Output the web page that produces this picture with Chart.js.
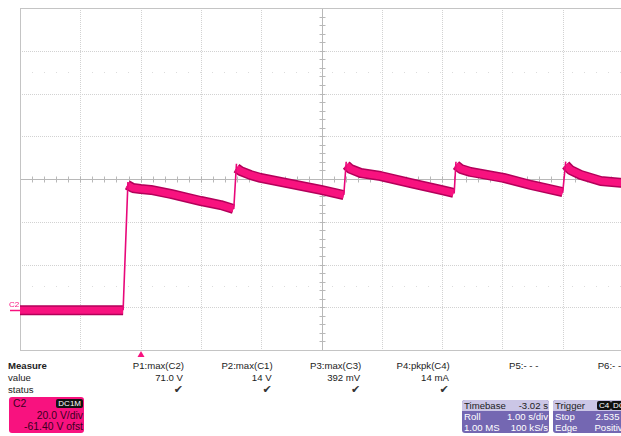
<!DOCTYPE html>
<html>
<head>
<meta charset="utf-8">
<script src="https://cdn.jsdelivr.net/npm/chart.js@4.4.1/dist/chart.umd.min.js"></script>
<style>
  html, body { margin: 0; padding: 0; background: #fff; overflow: hidden; }
  body { width: 621px; height: 436px; position: relative; font-family: "Liberation Sans", Arial, sans-serif; font-size: 9.6px; color: #222; }
  #wrap { position: absolute; left: 0; top: 0; width: 626px; height: 360px; }
  .t { position: absolute; white-space: nowrap; line-height: 11px; }
  .r { text-align: right; }
  .chk { font-family: "DejaVu Sans", sans-serif; font-size: 11px; color: #333; }
  .box { position: absolute; border-radius: 3px; overflow: hidden; }
  .c2 .t { font-size: 10.4px; }
  .badge { position: absolute; background: #111; color: #fff; font-size: 8px; line-height: 9px; padding: 0 2px; border-radius: 2px; }
</style>
</head>
<body>
<div id="wrap"><canvas id="scope" width="626" height="360"></canvas></div>
<div id="panel"></div>
<script>
// time in s relative to trigger, voltage in V; null splits the trace
const bandTimes = [-2.00, -0.29, null,
  -0.22, -0.13, 0.00, 0.17, 0.50, 1.00, 1.33, 1.54, null,
  1.59, 1.66, 1.82, 1.99, 2.49, 2.99, 3.37, null,
  3.41, 3.48, 3.65, 3.98, 4.48, 4.98, 5.19, null,
  5.23, 5.31, 5.47, 6.02, 6.47, 7.00, null,
  7.05, 7.13, 7.30, 7.63, 8.01];
const bandVolts = [0.0, 0.0, null,
  58.6, 57.2, 56.7, 56.3, 54.4, 51.1, 49.2, 47.4, null,
  66.5, 65.1, 63.3, 61.9, 59.1, 56.3, 53.9, null,
  67.9, 66.1, 64.2, 62.8, 59.5, 56.3, 54.9, null,
  67.9, 66.1, 64.7, 61.9, 58.6, 55.3, null,
  67.9, 65.6, 63.3, 60.5, 59.5];
const edgeTimes = [-0.29, -0.21, null, 1.545, 1.59, null, 3.37, 3.41, null, 5.20, 5.23, null, 7.00, 7.05];
const edgeVolts = [0.0, 60.0, null, 47.4, 68.5, null, 53.9, 69.5, null, 54.6, 69.5, null, 55.0, 69.5];

const timeDivs = [-2, -1, 0, 1, 2, 3, 4, 5, 6, 7, 8];
const voltsPerDiv = 20.0;
const offsetVolts = -61.40;
const voltDivs = [-4, -3, -2, -1, 0, 1, 2, 3, 4].map(d => d * voltsPerDiv - offsetVolts);

const measureNames = ['P1:max(C2)', 'P2:max(C1)', 'P3:max(C3)', 'P4:pkpk(C4)', 'P5:- - -', 'P6:- - -'];
const measureValues = ['71.0 V', '14 V', '392 mV', '14 mA', '', ''];
const measureStatus = ['✔', '✔', '✔', '✔', '', ''];

const PINK = '#f8127f';

const toPoints = (ts, vs) => ts.map((t, i) => t === null ? { x: null, y: null } : { x: t, y: vs[i] });

const scopeGrid = {
  id: 'scopeGrid',
  beforeDatasetsDraw(chart) {
    const { ctx, chartArea: a, scales: { x, y } } = chart;
    const cx = Math.round(x.getPixelForValue(timeDivs[5])) + 0.5;
    const cy = Math.round(y.getPixelForValue(voltDivs[4])) + 0.5;
    ctx.save();
    ctx.lineWidth = 1;
    ctx.strokeStyle = '#d2d2d2';
    ctx.setLineDash([1, 1]);
    timeDivs.slice(1, -1).forEach(t => {
      const px = Math.round(x.getPixelForValue(t)) + 0.5;
      if (px === cx) return;
      ctx.beginPath(); ctx.moveTo(px, a.top); ctx.lineTo(px, a.bottom); ctx.stroke();
    });
    voltDivs.slice(1, -1).forEach(v => {
      const py = Math.round(y.getPixelForValue(v)) + 0.5;
      if (py === cy) return;
      ctx.beginPath(); ctx.moveTo(a.left, py); ctx.lineTo(a.right, py); ctx.stroke();
    });
    ctx.setLineDash([]);
    // faint dot rows
    ctx.fillStyle = '#dcdcdc';
    [1.5, 6.5].forEach(d => {
      const py = Math.round(a.top + d * (a.bottom - a.top) / 8);
      for (let px = a.left + 12; px < a.right; px += 12) ctx.fillRect(px, py, 1, 1);
    });
    // centre crosshair with minor ticks
    ctx.strokeStyle = '#b8b8b8';
    ctx.beginPath(); ctx.moveTo(a.left, cy); ctx.lineTo(a.right, cy); ctx.stroke();
    ctx.beginPath(); ctx.moveTo(cx, a.top); ctx.lineTo(cx, a.bottom); ctx.stroke();
    const dx = (a.right - a.left) / 50, dy = (a.bottom - a.top) / 40;
    ctx.beginPath();
    for (let i = 1; i < 50; i++) { const px = Math.round(a.left + i * dx) + 0.5; ctx.moveTo(px, cy - 3); ctx.lineTo(px, cy + 3); }
    for (let i = 1; i < 40; i++) { const py = Math.round(a.top + i * dy) + 0.5; ctx.moveTo(cx - 3, py); ctx.lineTo(cx + 3, py); }
    ctx.stroke();
    ctx.strokeStyle = '#c4c4c4';
    ctx.strokeRect(a.left + 0.5, a.top + 0.5, a.right - a.left, a.bottom - a.top);
    ctx.restore();
  },
  afterDraw(chart) {
    const { ctx, chartArea: a, scales: { x, y } } = chart;
    const zy = Math.round(y.getPixelForValue(0));
    const tx = Math.round(x.getPixelForValue(0));
    ctx.save();
    ctx.fillStyle = PINK;
    ctx.strokeStyle = PINK;
    ctx.font = '8px "Liberation Sans", Arial, sans-serif';
    ctx.textBaseline = 'alphabetic';
    ctx.fillText('C2', 9, zy - 3);
    ctx.lineWidth = 1.5;
    ctx.beginPath(); ctx.moveTo(10, zy + 0.5); ctx.lineTo(a.left, zy + 0.5); ctx.stroke();
    ctx.beginPath();
    ctx.moveTo(tx, a.bottom + 1); ctx.lineTo(tx - 3.5, a.bottom + 7); ctx.lineTo(tx + 3.5, a.bottom + 7);
    ctx.closePath(); ctx.fill();
    ctx.restore();
  }
};

const drawScope = () => {
  const context = document.getElementById('scope').getContext('2d');
  new Chart(context, {
    type: 'line',
    data: {
      datasets: [
        { data: toPoints(bandTimes, bandVolts), borderColor: '#b3005a', borderWidth: 10, order: 3 },
        { data: toPoints(bandTimes, bandVolts), borderColor: PINK, borderWidth: 7, order: 2 },
        { data: toPoints(edgeTimes, edgeVolts), borderColor: '#e8087a', borderWidth: 1.6, order: 1 }
      ]
    },
    options: {
      responsive: false,
      animation: false,
      events: [],
      spanGaps: false,
      layout: { padding: { left: 20, top: 8, right: 3, bottom: 10 } },
      elements: {
        point: { radius: 0 },
        line: { tension: 0, borderJoinStyle: 'round', borderCapStyle: 'butt', fill: false }
      },
      scales: {
        x: { type: 'linear', display: false, min: timeDivs[0], max: timeDivs[timeDivs.length - 1] },
        y: { type: 'linear', display: false, min: voltDivs[0], max: voltDivs[voltDivs.length - 1] }
      },
      plugins: { legend: { display: false }, tooltip: { enabled: false } }
    },
    plugins: [scopeGrid]
  });
};

const drawPanel = () => {
  const panel = document.getElementById('panel');
  let html = '';
  html += '<div class="t" style="left:8px;top:360px;font-weight:bold">Measure</div>';
  html += '<div class="t" style="left:8px;top:372px">value</div>';
  html += '<div class="t" style="left:8px;top:384px">status</div>';
  measureNames.forEach((name, i) => {
    const right = 621 - (184 + i * 88.6);
    html += `<div class="t r" style="right:${right}px;top:360px">${name}</div>`;
    html += `<div class="t r" style="right:${right + 1}px;top:372px">${measureValues[i]}</div>`;
    html += `<div class="t r chk" style="right:${right + 1}px;top:384px">${measureStatus[i]}</div>`;
  });
  html += `<div class="box c2" style="left:9px;top:397px;width:75px;height:36px;background:${PINK}">
    <div class="t" style="left:4px;top:1px;color:#3a0020">C2</div>
    <div class="badge" style="right:1px;top:2px">DC1M</div>
    <div class="t r" style="right:1px;top:13px;color:#3a0020">20.0 V/div</div>
    <div class="t r" style="right:1px;top:24px;color:#3a0020">-61.40 V ofst</div>
  </div>`;
  html += `<div class="box" style="left:462px;top:400px;width:87px;height:33px;background:#7467b2">
    <div style="position:absolute;left:0;top:0;width:87px;height:11px;background:#cbc6e6"></div>
    <div class="t" style="left:2px;top:0px;color:#222">Timebase</div>
    <div class="t r" style="right:1px;top:0px;color:#222">-3.02 s</div>
    <div class="t" style="left:2px;top:11px;color:#fff">Roll</div>
    <div class="t r" style="right:1px;top:11px;color:#fff">1.00 s/div</div>
    <div class="t" style="left:2px;top:22px;color:#fff">1.00 MS</div>
    <div class="t r" style="right:1px;top:22px;color:#fff">100 kS/s</div>
  </div>`;
  html += `<div class="box" style="left:553px;top:400px;width:76px;height:33px;background:#7467b2">
    <div style="position:absolute;left:0;top:0;width:76px;height:11px;background:#cbc6e6"></div>
    <div class="t" style="left:2px;top:0px;color:#222">Trigger</div>
    <div class="badge" style="left:44px;top:1px">C4</div>
    <div class="badge" style="left:58px;top:1px">DC</div>
    <div class="t" style="left:2px;top:11px;color:#fff">Stop</div>
    <div class="t r" style="right:1px;top:11px;color:#fff">2.535 A</div>
    <div class="t" style="left:2px;top:22px;color:#fff">Edge</div>
    <div class="t r" style="right:1px;top:22px;color:#fff">Positive</div>
  </div>`;
  panel.innerHTML = html;
};

drawScope();
drawPanel();
</script>
</body>
</html>
